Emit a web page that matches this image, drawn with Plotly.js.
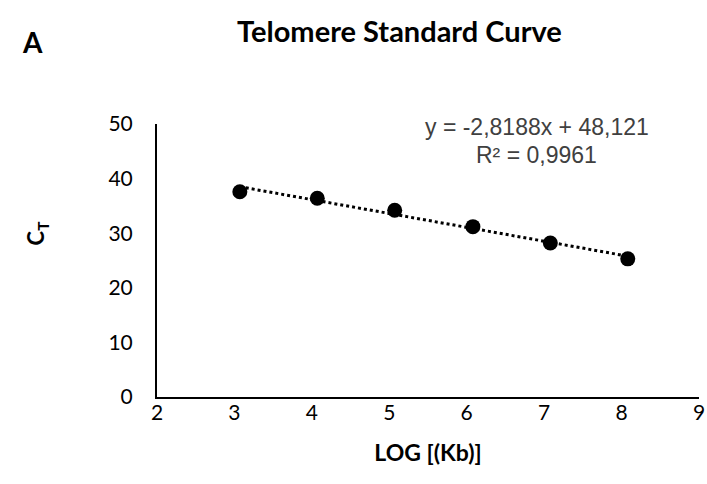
<!DOCTYPE html>
<html><head><meta charset="utf-8">
<script src="https://cdn.plot.ly/plotly-3.0.1.min.js"></script>
<style>html,body{margin:0;padding:0;background:#fff}#chart{width:707px;height:484px}</style>
</head><body><div id="chart"></div>
<script>
const logKb = [3.07, 4.07, 5.07, 6.08, 7.08, 8.08];
const ct = [37.6, 36.4, 34.2, 31.2, 28.2, 25.3];
const xTicks = [2, 3, 4, 5, 6, 7, 8, 9];
const yTicks = [0, 10, 20, 30, 40, 50];
const equationLines = ['y = -2,8188x + 48,121', 'R² = 0,9961'];

// least-squares trendline from the data
const n = logKb.length;
const mx = logKb.reduce((a,b)=>a+b,0)/n, my = ct.reduce((a,b)=>a+b,0)/n;
let sxy=0, sxx=0;
for (let i=0;i<n;i++){sxy+=(logKb[i]-mx)*(ct[i]-my);sxx+=(logKb[i]-mx)**2;}
const slope = sxy/sxx, icpt = my - slope*mx;
const tx = [logKb[0], logKb[n-1]];
const ty = tx.map(x=>icpt+slope*x);

const font = 'Lato, Open Sans, sans-serif';
const eqFont = {family:'Liberation Sans, Arial, sans-serif', size:23, color:'#404040'};
Plotly.newPlot('chart', [
  {x: tx, y: ty, mode:'lines', line:{color:'#000', width:3, dash:'dot'}, hoverinfo:'skip'},
  {x: logKb, y: ct, mode:'markers', marker:{color:'#000', size:15}}
], {
  width:707, height:484, showlegend:false,
  paper_bgcolor:'#fff', plot_bgcolor:'#fff',
  margin:{l:157, r:8, t:124, b:87},
  font:{family:font, color:'#000', size:19},
  title:{text:'<b>Telomere Standard Curve</b>', x:0.565, xanchor:'center', y:0.934, yanchor:'middle', font:{family:font, size:29, color:'#000'}},
  xaxis:{range:[2,9], tickvals:xTicks, showgrid:false, zeroline:false, showline:true, linecolor:'#000', linewidth:2,
    ticks:'', ticklabelstandoff:-4, tickfont:{size:21},
    title:{text:'<b>LOG [(Kb)]</b>', standoff:22, font:{size:23}}},
  yaxis:{range:[0,50], tickvals:yTicks, showgrid:false, zeroline:false, showline:true, linecolor:'#000', linewidth:2,
    ticks:'', ticklabelstandoff:18, tickfont:{size:21}},
  annotations:[
    {text:'<b>A</b>', xref:'paper', yref:'paper', x:-0.252, y:1.30, xanchor:'left', yanchor:'middle', showarrow:false, font:{family:font, size:28, color:'#000'}},
    {text:'<b>C<sub>T</sub></b>', xref:'paper', yref:'paper', x:-0.221, y:0.60, xanchor:'center', yanchor:'middle', textangle:-90, showarrow:false, font:{family:font, size:22, color:'#000'}},
    {text:equationLines[0], xref:'paper', yref:'paper', x:0.701, y:0.989, xanchor:'center', yanchor:'middle', showarrow:false, font:eqFont},
    {text:equationLines[1], xref:'paper', yref:'paper', x:0.701, y:0.886, xanchor:'center', yanchor:'middle', showarrow:false, font:eqFont}
  ]
}, {staticPlot:true});
</script></body></html>
